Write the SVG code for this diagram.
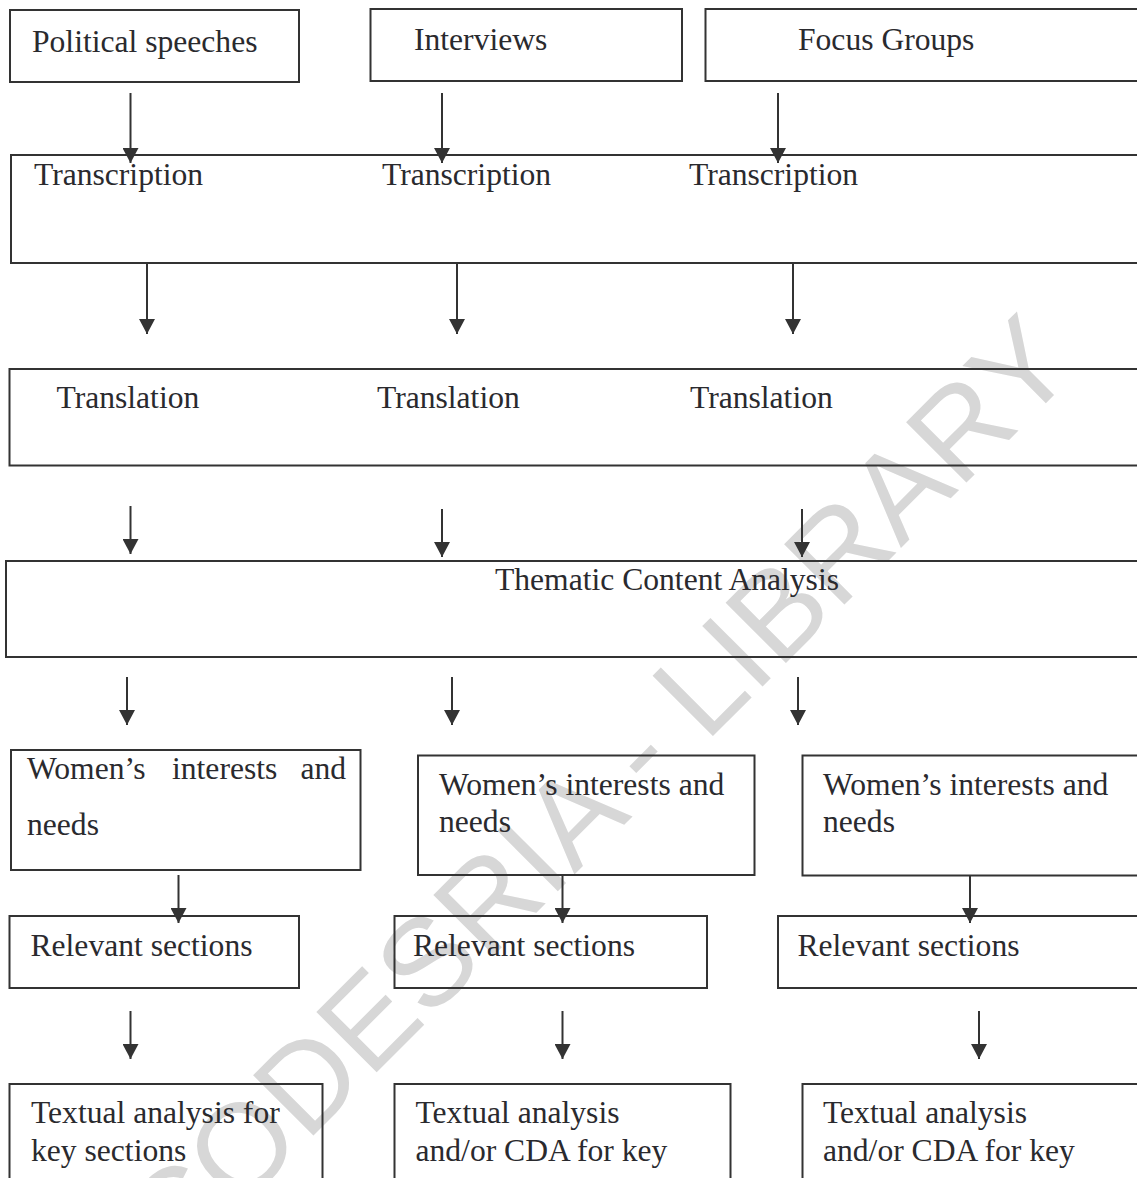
<svg xmlns="http://www.w3.org/2000/svg" width="1137" height="1178" viewBox="0 0 1137 1178">
<style>
.box{fill:none;stroke:#333;stroke-width:2}
.t{font-family:"Liberation Serif","Times New Roman",serif;font-size:31.6px;fill:#2a2a2e}
.c{stroke:#333;stroke-width:2;fill:none}
.wm{font-family:"Liberation Sans",Arial,sans-serif;font-size:124px;fill:#d7d7d7}
</style>
<defs>
<marker id="ah" viewBox="0 0 15 16" refX="15" refY="8" markerWidth="15" markerHeight="16" markerUnits="userSpaceOnUse" orient="auto">
<path d="M0,0 L15,8 L0,16 Z" fill="#333"/>
</marker>
</defs>
<rect width="1137" height="1178" fill="#fff"/>
<g id="watermark">
<text class="wm" text-anchor="middle" transform="translate(627,822) rotate(-45)">CODESRIA - LIBRARY</text>
</g>
<g id="political"><rect class="box" x="10" y="10" width="289" height="72"/><text class="t" x="32" y="52">Political speeches</text></g>
<g id="interviews"><rect class="box" x="370.5" y="9" width="311.5" height="72"/><text class="t" x="414" y="50">Interviews</text></g>
<g id="focus"><rect class="box" x="705.5" y="9" width="460" height="72"/><text class="t" x="798" y="50">Focus Groups</text></g>
<g id="transcription"><rect class="box" x="11" y="155" width="1160" height="108"/>
<text class="t" x="34" y="185">Transcription</text><text class="t" x="382" y="185">Transcription</text><text class="t" x="689" y="185">Transcription</text></g>
<g id="translation"><rect class="box" x="9.5" y="369" width="1160" height="96.5"/>
<text class="t" x="56.5" y="408">Translation</text><text class="t" x="377" y="408">Translation</text><text class="t" x="690" y="408">Translation</text></g>
<g id="thematic"><rect class="box" x="6" y="561" width="1160" height="96"/><text class="t" x="495" y="590">Thematic Content Analysis</text></g>
<g id="women1"><rect class="box" x="11" y="750" width="349.5" height="120"/>
<text class="t" x="27" y="779">Women’s</text><text class="t" x="172" y="779">interests</text><text class="t" x="346" y="779" text-anchor="end">and</text>
<text class="t" x="27" y="835">needs</text></g>
<g id="women2"><rect class="box" x="418" y="755.5" width="336.5" height="119.5"/>
<text class="t" x="439" y="795">Women’s interests and</text><text class="t" x="439" y="832">needs</text></g>
<g id="women3"><rect class="box" x="802.5" y="755.5" width="360" height="120"/>
<text class="t" x="823" y="795">Women’s interests and</text><text class="t" x="823" y="832">needs</text></g>
<g id="relevant1"><rect class="box" x="9.5" y="916" width="289.5" height="72"/><text class="t" x="30.5" y="956">Relevant sections</text></g>
<g id="relevant2"><rect class="box" x="394.5" y="916" width="312.5" height="72"/><text class="t" x="413" y="956">Relevant sections</text></g>
<g id="relevant3"><rect class="box" x="778" y="916" width="380" height="72"/><text class="t" x="797.5" y="956">Relevant sections</text></g>
<g id="textual1"><rect class="box" x="9.5" y="1084" width="313" height="130"/>
<text class="t" x="31" y="1123">Textual analysis for</text><text class="t" x="31" y="1161">key sections</text></g>
<g id="textual2"><rect class="box" x="394.5" y="1084" width="336" height="130"/>
<text class="t" x="415.5" y="1123">Textual analysis</text><text class="t" x="415.5" y="1161">and/or CDA for key</text></g>
<g id="textual3"><rect class="box" x="802.5" y="1084" width="360" height="130"/>
<text class="t" x="823" y="1123">Textual analysis</text><text class="t" x="823" y="1161">and/or CDA for key</text></g>
<g id="connectors">
<path class="c" marker-end="url(#ah)" d="M130.5,93 V163"/>
<path class="c" marker-end="url(#ah)" d="M442,93 V163"/>
<path class="c" marker-end="url(#ah)" d="M778,93 V163"/>
<path class="c" marker-end="url(#ah)" d="M147,263 V334"/>
<path class="c" marker-end="url(#ah)" d="M457,263 V334"/>
<path class="c" marker-end="url(#ah)" d="M793,263 V334"/>
<path class="c" marker-end="url(#ah)" d="M130.5,506 V554"/>
<path class="c" marker-end="url(#ah)" d="M442,509 V557"/>
<path class="c" marker-end="url(#ah)" d="M802,509 V557"/>
<path class="c" marker-end="url(#ah)" d="M127,677 V725"/>
<path class="c" marker-end="url(#ah)" d="M452,677 V725"/>
<path class="c" marker-end="url(#ah)" d="M798,677 V725"/>
<path class="c" marker-end="url(#ah)" d="M178.5,875 V923"/>
<path class="c" marker-end="url(#ah)" d="M562.5,875 V923"/>
<path class="c" marker-end="url(#ah)" d="M970,875 V923"/>
<path class="c" marker-end="url(#ah)" d="M130.5,1011 V1059"/>
<path class="c" marker-end="url(#ah)" d="M562.5,1011 V1059"/>
<path class="c" marker-end="url(#ah)" d="M979,1011 V1059"/>
</g>
</svg>
